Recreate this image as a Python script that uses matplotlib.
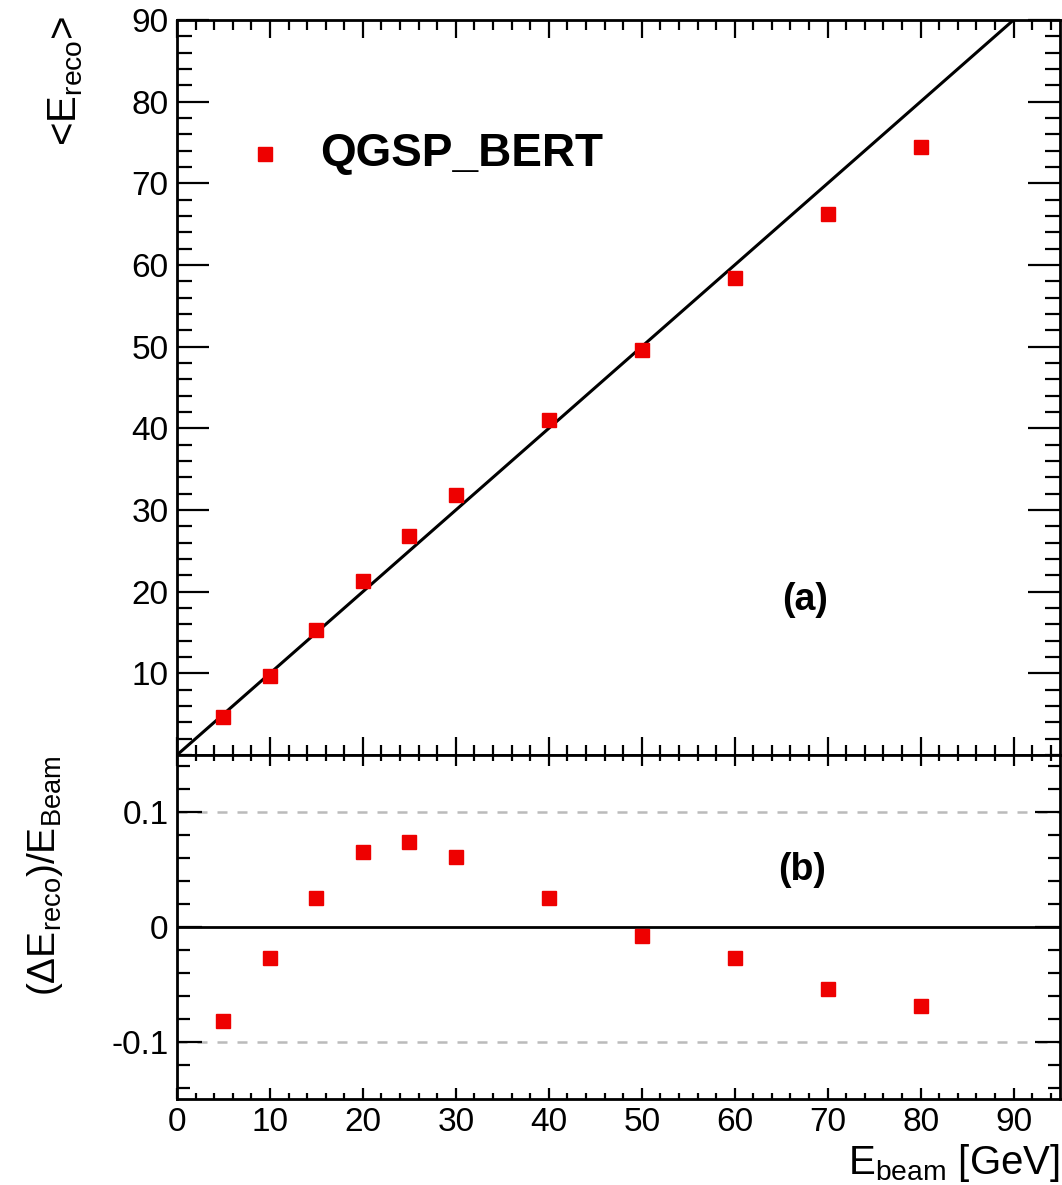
import matplotlib
matplotlib.use("Agg")
import matplotlib.pyplot as plt
from matplotlib.ticker import MultipleLocator

plt.rcParams['font.family'] = ['Liberation Sans', 'DejaVu Sans']
plt.rcParams['mathtext.fontset'] = 'custom'
plt.rcParams['mathtext.rm'] = 'Liberation Sans'
plt.rcParams['mathtext.it'] = 'Liberation Sans'
plt.rcParams['mathtext.bf'] = 'Liberation Sans:bold'

# ---- data ----
e_beam = [5, 10, 15, 20, 25, 30, 40, 50, 60, 70, 80]
e_reco = [4.6, 9.7, 15.35, 21.3, 26.8, 31.85, 41.0, 49.6, 58.35, 66.3, 74.5]
rel_diff = [-0.082, -0.027, 0.025, 0.065, 0.074, 0.061, 0.025, -0.008, -0.027, -0.054, -0.069]
line_x = [0, 90]
legend_label = "QGSP_BERT"

W, H = 1062, 1185
fig = plt.figure(figsize=(W / 100, H / 100), dpi=100)

L, R = 177, 1060
ax1 = fig.add_axes([L / W, 1 - 755 / H, (R - L) / W, (755 - 20) / H])
ax2 = fig.add_axes([L / W, 1 - 1099 / H, (R - L) / W, (1099 - 755) / H])

red = '#ee0000'
ms = 9.5

# top panel
ax1.plot(line_x, line_x, color='black', lw=2.2, zorder=2)
ax1.plot(e_beam, e_reco, 's', color=red, ms=ms, mec=red, zorder=3)
ax1.set_xlim(0, 95)
ax1.set_ylim(0, 90)
ax1.xaxis.set_major_locator(MultipleLocator(10))
ax1.xaxis.set_minor_locator(MultipleLocator(2))
ax1.yaxis.set_minor_locator(MultipleLocator(2))
ax1.set_yticks([10, 20, 30, 40, 50, 60, 70, 80, 90])
ax1.tick_params(axis='x', which='both', labelbottom=False)

# legend (manual)
ax1.plot([9.5], [73.6], 's', color=red, ms=ms, mec=red, clip_on=False)
ax1.text(15.4, 73.6, legend_label, fontsize=33, fontweight='bold', va='center', ha='left')
ax1.text(67.6, 19.0, "(a)", fontsize=27, fontweight='bold', ha='center', va='center')

fig.text(66 / W, 1 - 16 / H, r'<E$_{\mathregular{reco}}$>', rotation=90, fontsize=29,
         ha='center', va='top')

# bottom panel
ax2.axhline(0, color='black', lw=2.0, zorder=2)
ax2.axhline(0.1, color='#bbbbbb', lw=1.8, ls=(0, (4, 4)), zorder=1)
ax2.axhline(-0.1, color='#bbbbbb', lw=1.8, ls=(0, (4, 4)), zorder=1)
ax2.plot(e_beam, rel_diff, 's', color=red, ms=ms, mec=red, zorder=3)
ax2.set_xlim(0, 95)
ax2.set_ylim(-0.15, 0.15)
ax2.xaxis.set_minor_locator(MultipleLocator(2))
ax2.set_yticks([-0.1, 0, 0.1])
ax2.set_yticklabels(['-0.1', '0', '0.1'])
ax2.yaxis.set_minor_locator(MultipleLocator(0.02))
ax2.text(67.2, 0.050, "(b)", fontsize=27, fontweight='bold', ha='center', va='center')
ax2.set_xticks(range(0, 91, 10))
ax2.set_xticklabels([str(v) for v in range(0, 91, 10)])

fig.text(45 / W, 1 - 755 / H, r'($\Delta$E$_{\mathregular{reco}}$)/E$_{\mathregular{Beam}}$',
         rotation=90, fontsize=28, ha='center', va='top')
fig.text(1060 / W, 1 - 1184 / H, r'E$_{\mathregular{beam}}$ [GeV]', fontsize=29,
         ha='right', va='bottom')

for ax in (ax1, ax2):
    for s in ax.spines.values():
        s.set_linewidth(2.0)
    ax.tick_params(which='both', direction='in', top=True, right=True,
                   labelsize=24, width=1.6, pad=6)

ax1.tick_params(axis='y', which='major', length=23)
ax1.tick_params(axis='y', which='minor', length=11)
ax1.tick_params(axis='x', which='major', length=13)
ax1.tick_params(axis='x', which='minor', length=7)
ax2.tick_params(axis='y', which='major', length=18)
ax2.tick_params(axis='y', which='minor', length=9)
ax2.tick_params(axis='x', which='major', length=8)
ax2.tick_params(axis='x', which='minor', length=4)

fig.savefig("out.png", dpi=100)
